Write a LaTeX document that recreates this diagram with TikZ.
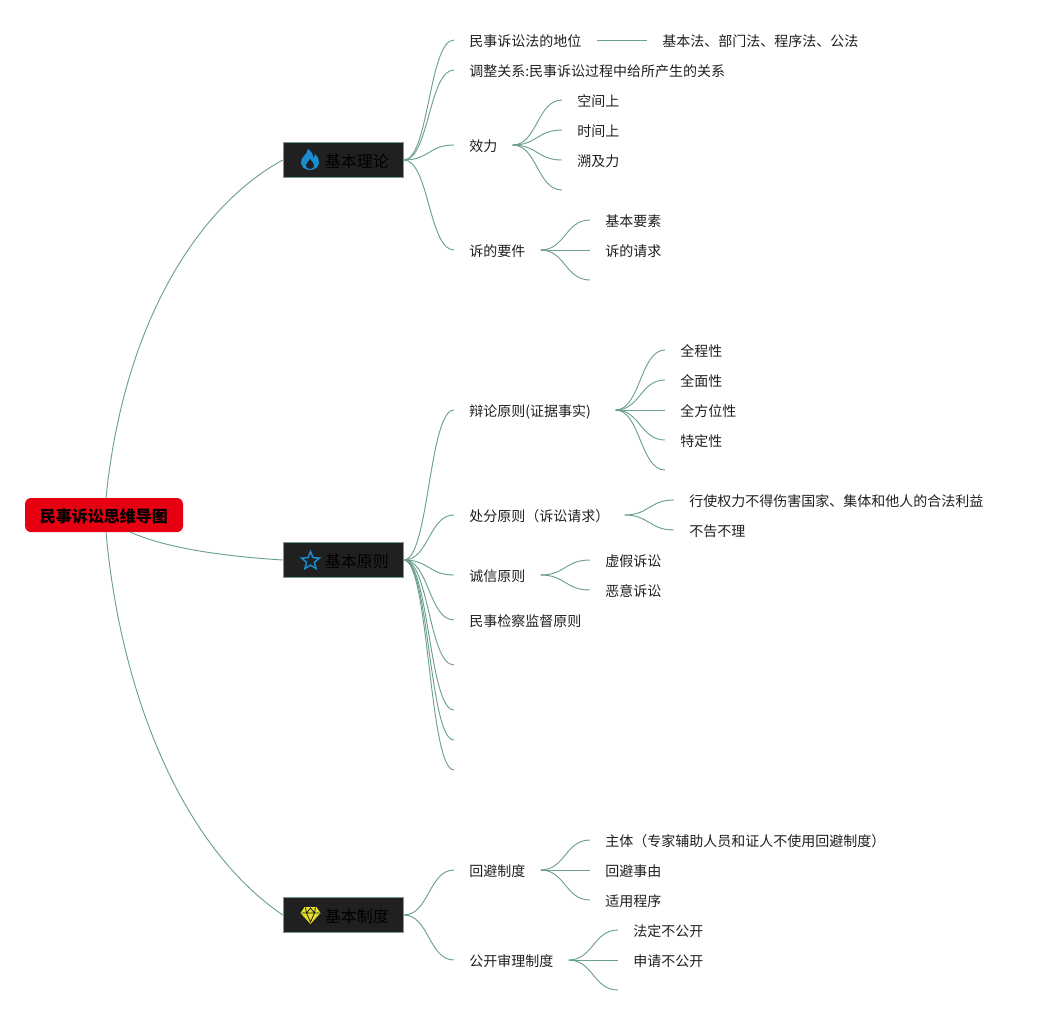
\documentclass[tikz,border=0pt]{standalone}
\usepackage{fontspec}
\setmainfont{Noto Sans CJK SC}
\usetikzlibrary{calc,shapes.geometric}
\definecolor{linkc}{HTML}{6BA08D}
\definecolor{boxc}{HTML}{202020}
\definecolor{rootc}{HTML}{E60012}
\definecolor{iconb}{HTML}{1A8CD2}
\definecolor{icony}{HTML}{E6E02C}
\newcommand{\lnk}[2]{\draw[linkline] let \p1=(#1),\p2=(#2) in (\p1) .. controls ({.5*\x1+.5*\x2},\y1) and ({.5*\x1+.5*\x2},\y2) .. (\p2);}
\tikzset{
 linkline/.style={draw=linkc,line width=0.7pt},
 rootbox/.style={fill=rootc,draw=none,rounded corners=4.5pt,minimum width=118.5pt,minimum height=25.5pt,inner sep=0pt,text height=12.06pt,text depth=1.44pt,font=\fontsize{12}{14}\selectfont\bfseries,text=black},
 branchbox/.style={fill=boxc,draw=linkc,line width=0.6pt,minimum width=90.2pt,minimum height=26.6pt,inner sep=0pt,text height=12.06pt,text depth=1.44pt,font=\fontsize{12}{14}\selectfont,text=black},
 leaf/.style={anchor=west,inner xsep=11.25pt,inner ysep=2pt,text height=10.7pt,text depth=1.3pt,font=\fontsize{10.5}{13}\selectfont,text=black!88},
}
\begin{document}
\begin{tikzpicture}[x=0.75pt,y=-0.75pt]
\useasboundingbox (0,0) rectangle (1043,1015);
% root and branches
\node[rootbox] (root) at (104,515) {民事诉讼思维导图};
\node[branchbox] (b1) at (343.3,160) {\hspace*{20.25pt}基本理论};
\node[branchbox] (b2) at (343.3,560) {\hspace*{20.25pt}基本原则};
\node[branchbox] (b3) at (343.3,915) {\hspace*{20.25pt}基本制度};
\coordinate (rt) at (106,498);
\coordinate (rb) at (106,532);
\coordinate (rm) at (130,532);
\draw[linkline] (rt) .. controls (124,320) and (200,205) .. (b1.west);
\draw[linkline] (rm) .. controls (170,550) and (235,557) .. (b2.west);
\draw[linkline] (rb) .. controls (120,690) and (180,845) .. (b3.west);
% icons
\begin{scope}[shift={(310,160)}]
\fill[iconb] (0,10) .. controls (-6,10) and (-9,6) .. (-9,2) .. controls (-9,-3) and (-3,-5) .. (-2,-11) .. controls (3,-8) and (3,-4) .. (3,-2) .. controls (4,-3) and (5,-4) .. (5,-6) .. controls (8,-3) and (9,-1) .. (9,2) .. controls (9,6) and (6,10) .. (0,10) -- cycle;
\fill[boxc] (0,9) .. controls (-3,9) and (-4,7) .. (-4,5) .. controls (-4,3) and (-1,2) .. (0,-1) .. controls (2,2) and (4,3) .. (4,5) .. controls (4,7) and (3,9) .. (0,9) -- cycle;
\end{scope}
\node[star,star points=5,star point ratio=2.3,draw=iconb,line width=1.1pt,minimum size=14.2pt,inner sep=0pt] (staricon) at (310.5,561) {};
\begin{scope}[shift={(310.5,915)}]
\fill[icony] (-6,-8) -- (6,-8) -- (10,-2) -- (0,9) -- (-10,-2) -- cycle;
\draw[boxc,line width=0.6pt] (-9,-2) -- (9,-2) (-4,-2) -- (0,7) -- (4,-2) (-5,-7.5) -- (-4,-2) (5,-7.5) -- (4,-2) (-4,-2) -- (0,-7) -- (4,-2);
\end{scope}
% theory
\node[leaf] (t1) at (454,40) {民事诉讼法的地位};
\node[leaf] (t1a) at (647,40) {基本法、部门法、程序法、公法};
\node[leaf] (t2) at (454,70) {调整关系:民事诉讼过程中给所产生的关系};
\node[leaf] (t3) at (454,145) {效力};
\node[leaf] (t3a) at (562,100) {空间上};
\node[leaf] (t3b) at (562,130) {时间上};
\node[leaf] (t3c) at (562,160) {溯及力};
\coordinate (t3d) at (562,190);
\node[leaf] (t4) at (454,250) {诉的要件};
\node[leaf] (t4a) at (590,220) {基本要素};
\node[leaf] (t4b) at (590,250) {诉的请求};
\coordinate (t4c) at (590,280);
\foreach \nd in {t1,t2,t3,t4}{\lnk{b1.east}{\nd.west}}
\draw[linkline] (t1.east) -- (t1a.west);
\foreach \nd in {t3a,t3b,t3c}{\lnk{t3.east}{\nd.west}}
\lnk{t3.east}{t3d}
\foreach \nd in {t4a,t4b}{\lnk{t4.east}{\nd.west}}
\lnk{t4.east}{t4c}
% principles
\node[leaf] (p1) at (454,410) {\makebox[98.25pt][l]{辩论原则(证据事实)}};
\node[leaf] (p1a) at (665,350) {全程性};
\node[leaf] (p1b) at (665,380) {全面性};
\node[leaf] (p1c) at (665,410) {全方位性};
\node[leaf] (p1d) at (665,440) {特定性};
\coordinate (p1e) at (665,470);
\node[leaf] (p2) at (454,515) {处分原则（诉讼请求）};
\node[leaf] (p2a) at (674,500) {行使权力不得伤害国家、集体和他人的合法利益};
\node[leaf] (p2b) at (674,530) {不告不理};
\node[leaf] (p3) at (454,575) {诚信原则};
\node[leaf] (p3a) at (590,560) {虚假诉讼};
\node[leaf] (p3b) at (590,590) {恶意诉讼};
\node[leaf] (p4) at (454,620) {民事检察监督原则};
\coordinate (p5) at (454,665);
\coordinate (p6) at (454,710);
\coordinate (p7) at (454,740);
\coordinate (p8) at (454,770);
\foreach \nd in {p1,p2,p3,p4}{\lnk{b2.east}{\nd.west}}
\foreach \nd in {p5,p6,p7,p8}{\lnk{b2.east}{\nd}}
\foreach \nd in {p1a,p1b,p1c,p1d}{\lnk{p1.east}{\nd.west}}
\lnk{p1.east}{p1e}
\foreach \nd in {p2a,p2b}{\lnk{p2.east}{\nd.west}}
\foreach \nd in {p3a,p3b}{\lnk{p3.east}{\nd.west}}
% systems
\node[leaf] (s1) at (454,870) {回避制度};
\node[leaf] (s1a) at (590,840) {主体（专家辅助人员和证人不使用回避制度）};
\node[leaf] (s1b) at (590,870) {回避事由};
\node[leaf] (s1c) at (590,900) {适用程序};
\node[leaf] (s2) at (454,960) {公开审理制度};
\node[leaf] (s2a) at (618,930) {法定不公开};
\node[leaf] (s2b) at (618,960) {申请不公开};
\coordinate (s2c) at (618,990);
\foreach \nd in {s1,s2}{\lnk{b3.east}{\nd.west}}
\foreach \nd in {s1a,s1b,s1c}{\lnk{s1.east}{\nd.west}}
\foreach \nd in {s2a,s2b}{\lnk{s2.east}{\nd.west}}
\lnk{s2.east}{s2c}
\end{tikzpicture}
\end{document}
